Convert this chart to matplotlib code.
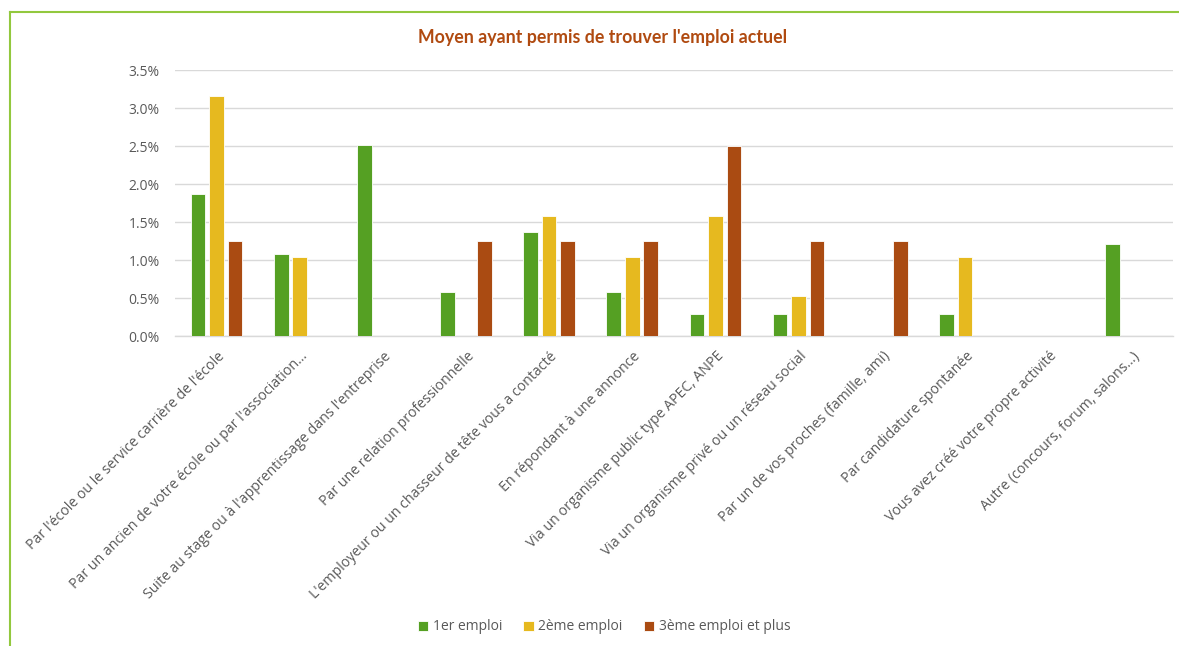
import numpy as np
import matplotlib.pyplot as plt
from matplotlib.lines import Line2D
from matplotlib.ticker import FuncFormatter

categories = [
    "Par l'école ou le service carrière de l'école",
    "Par un ancien de votre école ou par l'association...",
    "Suite au stage ou à l'apprentissage dans l'entreprise",
    "Par une relation professionnelle",
    "L'employeur ou un chasseur de tête vous a contacté",
    "En répondant à une annonce",
    "Via un organisme public type APEC, ANPE",
    "Via un organisme privé ou un réseau social",
    "Par un de vos proches (famille, ami)",
    "Par candidature spontanée",
    "Vous avez créé votre propre activité",
    "Autre (concours, forum, salons...)",
]
series_names = ["1er emploi", "2ème emploi", "3ème emploi et plus"]
nan = np.nan
emploi1 = [1.87, 1.08, 2.52, 0.58, 1.37, 0.58, 0.29, 0.29, nan, 0.29, nan, 1.22]
emploi2 = [3.16, 1.05, nan, nan, 1.58, 1.05, 1.58, 0.53, nan, 1.05, nan, nan]
emploi3 = [1.25, nan, nan, 1.25, 1.25, 1.25, 2.50, 1.25, 1.25, nan, nan, nan]
colors = ["#55A023", "#E6B91F", "#AA4B12"]

grey = "#595959"
plt.rcParams['font.family'] = ['Open Sans', 'DejaVu Sans']

fig = plt.figure(figsize=(11.79, 6.46), dpi=100)
ax = fig.add_axes([0.1484, 0.4794, 0.8463, 0.4118])

x = np.arange(len(categories))
w = 0.177
step = 0.222
for i, (vals, c, name) in enumerate(zip([emploi1, emploi2, emploi3], colors, series_names)):
    ax.bar(x + (i - 1) * step, np.array(vals, dtype=float), width=w, color=c,
           edgecolor="white", linewidth=0.6, label=name, zorder=3)

ax.set_xlim(-0.5, len(categories) - 0.5)
ax.set_ylim(0, 3.5)
ax.set_yticks(np.arange(0, 3.51, 0.5))
ax.yaxis.set_major_formatter(FuncFormatter(lambda v, p: f"{v:.1f}%"))
ax.grid(axis='y', color="#D9D9D9", linewidth=1, zorder=0)
for s in ['top', 'right', 'left']:
    ax.spines[s].set_visible(False)
ax.spines['bottom'].set_color("#D9D9D9")
ax.spines['bottom'].set_linewidth(1)
ax.tick_params(axis='y', length=0, pad=11, labelsize=10, labelcolor=grey)
ax.tick_params(axis='x', length=0, pad=9, labelcolor=grey)
ax.set_xticks(x + 0.01)
ax.set_xticklabels(categories, rotation=45, ha='right', rotation_mode='anchor', fontsize=10.2)

fig.text(0.511, 1 - 38 / 646, "Moyen ayant permis de trouver l'emploi actuel",
         ha='center', va='center', fontsize=12.8, fontweight='bold', color="#B04A10",
         family=['Lato', 'DejaVu Sans'])

fig.legend(loc='center', bbox_to_anchor=(604 / 1179, 1 - 627 / 646), ncol=3,
           frameon=False, handlelength=0.75, handleheight=0.75, handletextpad=0.35,
           columnspacing=1.5, fontsize=10, labelcolor=grey)

# cadre vert
fig.add_artist(Line2D([10 / 1179, 1], [1 - 12 / 646, 1 - 12 / 646], color="#92C83E", linewidth=1.5))
fig.add_artist(Line2D([10 / 1179, 10 / 1179], [0, 1 - 12 / 646], color="#92C83E", linewidth=1.5))

fig.savefig("out.png", dpi=100)
